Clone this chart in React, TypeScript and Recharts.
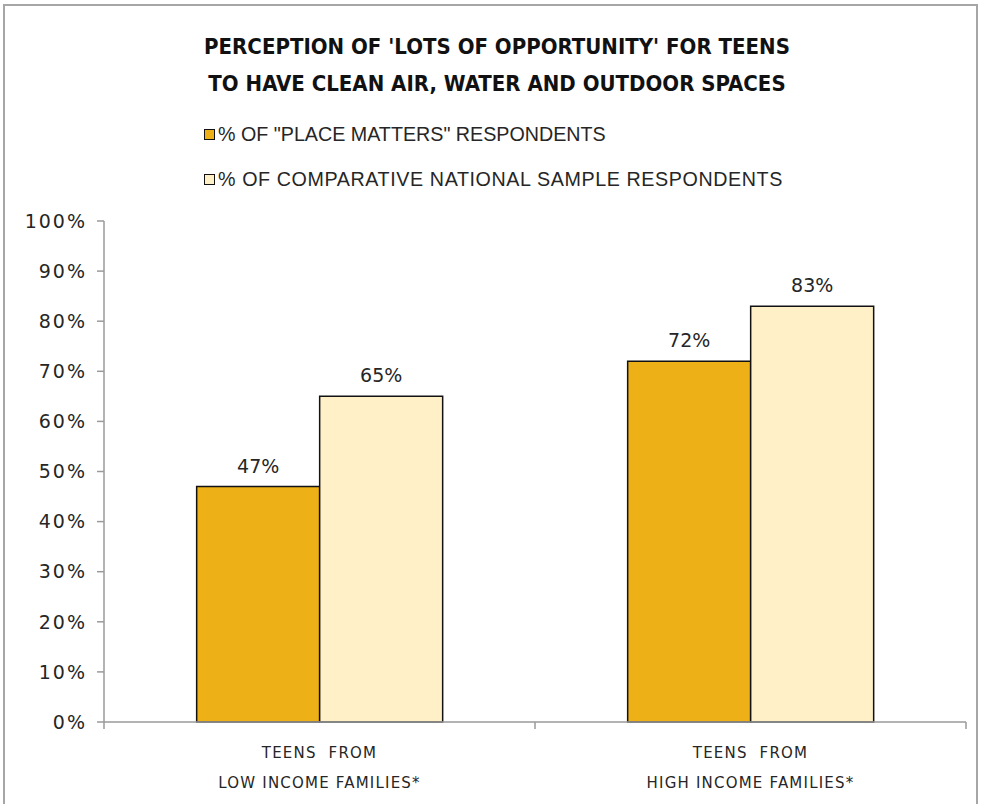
import { BarChart, Bar, XAxis, YAxis, Legend, LabelList } from "recharts";

const categories = ["TEENS  FROM\nLOW INCOME FAMILIES*", "TEENS  FROM\nHIGH INCOME FAMILIES*"];
const placeMatters = [47, 72];
const nationalSample = [65, 83];
const yTicks = [0, 10, 20, 30, 40, 50, 60, 70, 80, 90, 100];

const seriesNames = ['% OF "PLACE MATTERS" RESPONDENTS', "% OF COMPARATIVE NATIONAL SAMPLE RESPONDENTS"];
const seriesColors = ["#EDB016", "#FFF0C8"];

const data = categories.map((name, i) => ({
  name,
  place: placeMatters[i],
  national: nationalSample[i],
}));

const textFont = "'Liberation Sans', Arial, sans-serif";
const numFont = "'DejaVu Sans', sans-serif";

const CategoryTick = (props: any) => {
  const { x, y, payload, index } = props;
  const half = payload?.offset ?? 215.5;
  const lines = String(payload.value).split("\n");
  return (
    <g>
      {index === 0 && <line x1={x - half} y1={y} x2={x - half} y2={y + 7} stroke="#9a9a9a" strokeWidth={1.5} />}
      <line x1={x + half} y1={y} x2={x + half} y2={y + 7} stroke="#9a9a9a" strokeWidth={1.5} />
      {lines.map((line, i) => (
        <text
          key={i}
          x={x}
          y={y + 36 + i * 30}
          textAnchor="middle"
          fontFamily={numFont}
          fontSize={15}
          letterSpacing={1.2}
          fill="#262626"
          style={{ whiteSpace: "pre" }}
        >
          {line}
        </text>
      ))}
    </g>
  );
};

const renderLegend = () => (
  <div style={{ fontFamily: textFont, fontSize: 19.7, color: "#262626" }}>
    {seriesNames.map((name, i) => (
      <div key={name} style={{ display: "flex", alignItems: "center", height: 45 }}>
        <div
          style={{
            width: 9,
            height: 9,
            background: seriesColors[i],
            border: "1.5px solid #111",
            marginRight: 3,
          }}
        />
        <span style={{ letterSpacing: i === 1 ? 0.6 : 0 }}>{name}</span>
      </div>
    ))}
  </div>
);

export default function App() {
  return (
    <div
      style={{
        position: "absolute",
        left: 0,
        top: 0,
        width: 982,
        height: 804,
        background: "#fff",
        overflow: "hidden",
      }}
    >
      <div
        style={{
          position: "absolute",
          left: 3,
          top: 4,
          width: 971,
          height: 830,
          border: "2px solid #a6a6a6",
        }}
      />
      <div
        style={{
          position: "absolute",
          left: 0,
          top: 28,
          width: 994,
          textAlign: "center",
          fontFamily: "'DejaVu Sans Condensed', 'DejaVu Sans', sans-serif",
          fontStretch: "condensed",
          fontWeight: 700,
          fontSize: 22,
          lineHeight: "37px",
          color: "#111",
        }}
      >
        PERCEPTION OF 'LOTS OF OPPORTUNITY' FOR TEENS
        <br />
        TO HAVE CLEAN AIR, WATER AND OUTDOOR SPACES
      </div>
      <BarChart
        width={982}
        height={804}
        data={data}
        margin={{ top: 221, right: 16, bottom: 22, left: 14 }}
        barCategoryGap="21.5%"
        barGap={0}
      >
        <XAxis
          dataKey="name"
          stroke="#9a9a9a"
          strokeWidth={1.5}
          tickLine={false}
          tickSize={0}
          tickMargin={0}
          height={60}
          interval={0}
          tick={<CategoryTick />}
        />
        <YAxis
          type="number"
          domain={[0, 100]}
          ticks={yTicks}
          interval={0}
          width={90}
          stroke="#9a9a9a"
          strokeWidth={1.5}
          tickSize={7}
          tickMargin={10}
          tickFormatter={(v: number) => `${v}%`}
          tick={{ fontFamily: numFont, fontSize: 19, fill: "#262626", letterSpacing: 2 }}
        />
        <Legend
          layout="horizontal"
          verticalAlign="middle"
          align="center"
          content={renderLegend}
          wrapperStyle={{ top: 112, left: 204, width: 740, height: 90 }}
        />
        <Bar dataKey="place" name={seriesNames[0]} fill={seriesColors[0]} stroke="#111" strokeWidth={1.5} isAnimationActive={false}>
          <LabelList
            dataKey="place"
            position="top"
            offset={14}
            formatter={(v: any) => `${v}%`}
            style={{ fontFamily: numFont, fontSize: 19, fill: "#262626" }}
          />
        </Bar>
        <Bar dataKey="national" name={seriesNames[1]} fill={seriesColors[1]} stroke="#111" strokeWidth={1.5} isAnimationActive={false}>
          <LabelList
            dataKey="national"
            position="top"
            offset={14}
            formatter={(v: any) => `${v}%`}
            style={{ fontFamily: numFont, fontSize: 19, fill: "#262626" }}
          />
        </Bar>
      </BarChart>
    </div>
  );
}
